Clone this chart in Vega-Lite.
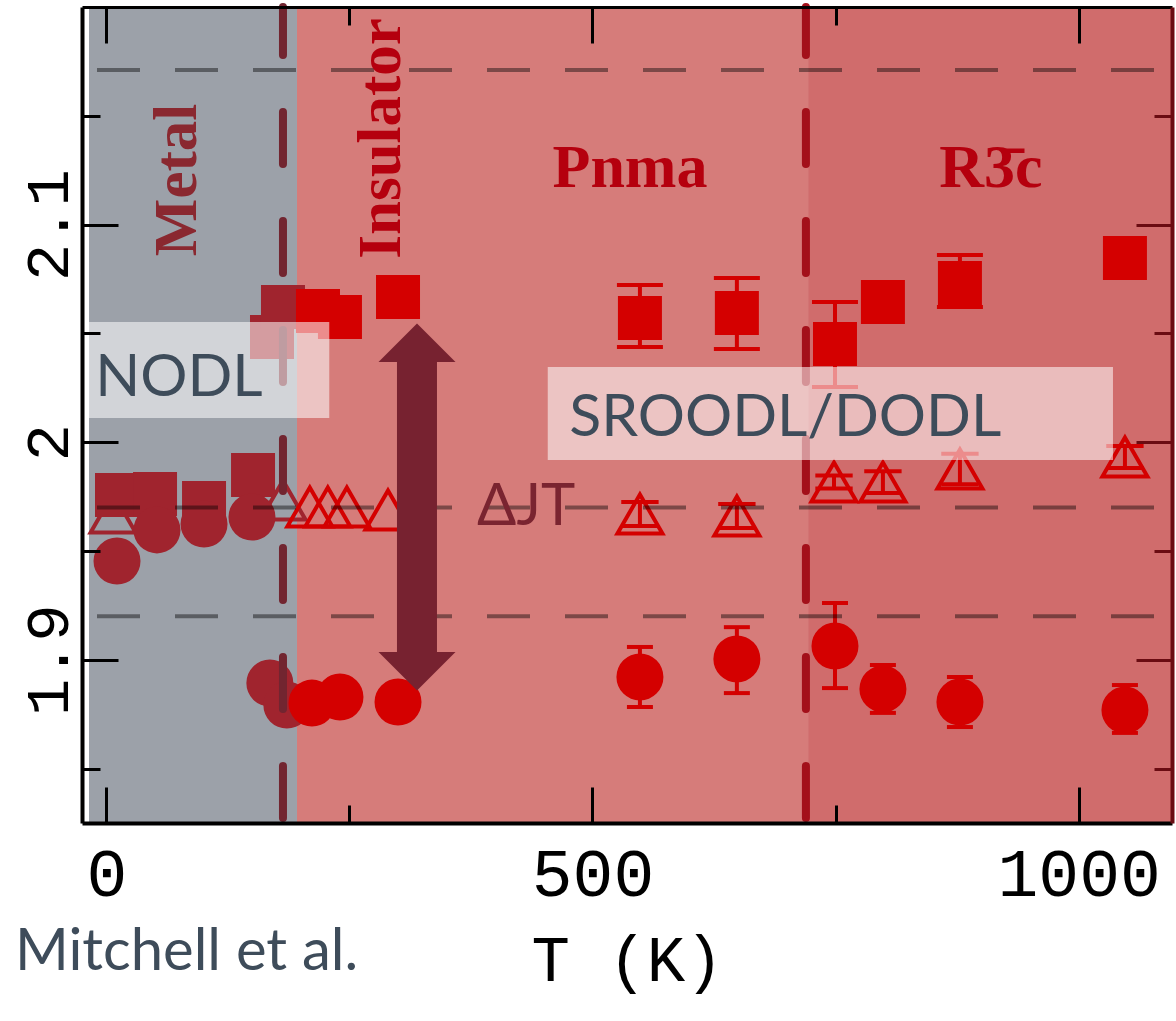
{
  "$schema": "https://vega.github.io/schema/vega-lite/v6.json",
  "width": 1090,
  "height": 816,
  "autosize": {"type": "none"},
  "padding": {"left": 82, "top": 7, "right": 4, "bottom": 198},
  "background": "white",
  "config": {
    "view": {"stroke": null},
    "axis": {"grid": false, "domainColor": "black", "tickColor": "black", "tickWidth": 3, "labelColor": "black", "titleColor": "black", "labelFlush": false, "labelOverlap": false}
  },
  "resolve": {"axis": {"x": "independent", "y": "independent"}},
  "layer": [
    {
      "data": {"values": [
        {"region": "Metal", "T0": -17.8, "T1": 196.1},
        {"region": "Pnma", "T0": 196.1, "T1": 721.7},
        {"region": "R3c", "T0": 721.7, "T1": 1096}
      ]},
      "mark": {"type": "rect"},
      "encoding": {
        "x": {"field": "T0", "type": "quantitative", "scale": {"domain": [-25, 1096], "nice": false, "zero": false},
          "axis": {"orient": "bottom", "zindex": 1, "values": [0, 500, 1000],
            "labelExpr": "'' + datum.value",
            "tickSize": -36,
            "labelPadding": 54, "labelFont": "Liberation Mono", "labelFontSize": 68,
            "title": "T (K)", "titleFont": "Liberation Mono", "titleFontSize": 64, "titleFontWeight": "normal", "titlePadding": 20,
            "domainWidth": 4}},
        "x2": {"field": "T1"},
        "color": {"field": "region", "type": "nominal", "scale": {"domain": ["Metal", "Pnma", "R3c"], "range": ["#9ca1a9", "#d67c7a", "#d06c6c"]}, "legend": null}
      }
    },
    {
      "data": {"values": [
        {"T": 7.0, "v": 1.9675}, {"T": 181.7, "v": 1.9734}, {"T": 209.3, "v": 1.9702}, {"T": 227.8, "v": 1.9702},
        {"T": 247.4, "v": 1.9702}, {"T": 289.7, "v": 1.9688}, {"T": 548.8, "v": 1.967}, {"T": 648.5, "v": 1.9661},
        {"T": 748.4, "v": 1.9817}, {"T": 798.7, "v": 1.9817}, {"T": 877.9, "v": 1.9877}, {"T": 1047.6, "v": 1.9932}
      ]},
      "mark": {"type": "point", "shape": "triangle-up", "filled": false, "strokeWidth": 4, "size": 2025, "opacity": 1},
      "encoding": {
        "x": {"field": "T", "type": "quantitative", "axis": null},
        "y": {"field": "v", "type": "quantitative", "scale": {"domain": [1.825, 2.2], "nice": false, "zero": false},
          "axis": {"orient": "right", "zindex": 1, "values": [1.9, 2, 2.1], "labels": false, "title": null, "tickSize": -36,
            "domainColor": "#6a0c12", "tickColor": "#6a0c12", "domainWidth": 4}},
        "color": {"condition": {"test": "datum.T < 196", "value": "#a0242e"}, "value": "#d40000"}
      }
    },
    {
      "data": {"values": [
        {"series": "sq", "T": 548.8, "lo": 2.0438, "hi": 2.0722},
        {"series": "sq", "T": 648.5, "lo": 2.0428, "hi": 2.0755},
        {"series": "sq", "T": 749.4, "lo": 2.0254, "hi": 2.0644},
        {"series": "sq", "T": 877.9, "lo": 2.0621, "hi": 2.086},
        {"series": "tri", "T": 548.8, "lo": 1.9615, "hi": 1.9725},
        {"series": "tri", "T": 648.5, "lo": 1.9606, "hi": 1.9716},
        {"series": "tri", "T": 748.4, "lo": 1.9787, "hi": 1.9847},
        {"series": "tri", "T": 798.7, "lo": 1.9767, "hi": 1.9867},
        {"series": "tri", "T": 877.9, "lo": 1.9807, "hi": 1.9947},
        {"series": "tri", "T": 1047.6, "lo": 1.9882, "hi": 1.9982},
        {"series": "circ", "T": 548.8, "lo": 1.8783, "hi": 1.9059},
        {"series": "circ", "T": 648.5, "lo": 1.8847, "hi": 1.915},
        {"series": "circ", "T": 749.4, "lo": 1.887, "hi": 1.9261},
        {"series": "circ", "T": 798.7, "lo": 1.8756, "hi": 1.8976},
        {"series": "circ", "T": 877.9, "lo": 1.8691, "hi": 1.8921},
        {"series": "circ", "T": 1047.6, "lo": 1.8664, "hi": 1.8884}
      ]},
      "layer": [
        {
          "mark": {"type": "rule", "strokeWidth": 4, "color": "#d40000"},
          "encoding": {
            "x": {"field": "T", "type": "quantitative", "axis": null},
            "y": {"field": "lo", "type": "quantitative", "axis": null},
            "y2": {"field": "hi"}
          }
        },
        {
          "mark": {"type": "point", "shape": "stroke", "strokeWidth": 4, "color": "#d40000", "opacity": 1},
          "encoding": {
            "x": {"field": "T", "type": "quantitative", "axis": null},
            "y": {"field": "lo", "type": "quantitative", "axis": null},
            "size": {"field": "series", "type": "nominal", "scale": {"domain": ["sq", "tri", "circ"], "range": [2116, 676, 2116]}, "legend": null}
          }
        },
        {
          "mark": {"type": "point", "shape": "stroke", "strokeWidth": 4, "color": "#d40000", "opacity": 1},
          "encoding": {
            "x": {"field": "T", "type": "quantitative", "axis": null},
            "y": {"field": "hi", "type": "quantitative", "axis": null},
            "size": {"field": "series", "type": "nominal", "legend": null}
          }
        }
      ]
    },
    {
      "data": {"values": [
        {"T": 11.0, "v": 1.9757}, {"T": 50.1, "v": 1.9762}, {"T": 100.5, "v": 1.9721}, {"T": 150.9, "v": 1.9849},
        {"T": 170.4, "v": 2.0483}, {"T": 181.7, "v": 2.0621}, {"T": 217.7, "v": 2.0603}, {"T": 240.3, "v": 2.0575},
        {"T": 300.0, "v": 2.0667}, {"T": 548.8, "v": 2.0571}, {"T": 648.5, "v": 2.0594}, {"T": 749.4, "v": 2.0451},
        {"T": 798.7, "v": 2.0644}, {"T": 877.9, "v": 2.0732}, {"T": 1047.6, "v": 2.0846}
      ]},
      "mark": {"type": "point", "shape": "square", "filled": true, "size": 1936, "opacity": 1},
      "encoding": {
        "x": {"field": "T", "type": "quantitative",
          "axis": {"orient": "top", "zindex": 1, "values": [0, 500, 1000], "labels": false, "title": null, "tickSize": -36, "domainWidth": 3}},
        "y": {"field": "v", "type": "quantitative",
          "axis": {"orient": "right", "zindex": 1, "values": [1.85, 1.95, 2.05, 2.15], "labels": false, "title": null, "tickSize": -18,
            "domain": false, "tickColor": "#6a0c12"}},
        "color": {"condition": {"test": "datum.T < 196", "value": "#a0242e"}, "value": "#d40000"}
      }
    },
    {
      "data": {"values": [
        {"T": 11.0, "v": 1.9454}, {"T": 52.1, "v": 1.9597}, {"T": 100.5, "v": 1.9624}, {"T": 149.8, "v": 1.9656},
        {"T": 168.2, "v": 1.8893}, {"T": 185.7, "v": 1.8792}, {"T": 211.5, "v": 1.8801}, {"T": 240.3, "v": 1.8829},
        {"T": 300.0, "v": 1.8806}, {"T": 548.8, "v": 1.8921}, {"T": 648.5, "v": 1.9004}, {"T": 749.4, "v": 1.9063},
        {"T": 798.7, "v": 1.8866}, {"T": 877.9, "v": 1.8806}, {"T": 1047.6, "v": 1.8769}
      ]},
      "mark": {"type": "point", "shape": "circle", "filled": true, "size": 2209, "opacity": 1},
      "encoding": {
        "x": {"field": "T", "type": "quantitative",
          "axis": {"orient": "top", "zindex": 1, "values": [250, 750], "labels": false, "title": null, "tickSize": -18, "domain": false}},
        "y": {"field": "v", "type": "quantitative",
          "axis": {"orient": "left", "zindex": 1, "values": [1.85, 1.95, 2.05, 2.15], "labels": false, "title": null, "tickSize": -18, "domain": false}},
        "color": {"condition": {"test": "datum.T < 196", "value": "#a0242e"}, "value": "#d40000"}
      }
    },
    {
      "data": {"values": [{"v": 2.171}, {"v": 1.97}, {"v": 1.92}]},
      "mark": {"type": "rule", "strokeWidth": 4, "strokeDash": [43, 35], "strokeDashOffset": 60, "color": "black", "opacity": 0.42},
      "encoding": {
        "y": {"field": "v", "type": "quantitative",
          "axis": {"orient": "left", "zindex": 1, "values": [1.9, 2, 2.1],
            "labelExpr": "'' + datum.value",
            "tickSize": -36,
            "labelAngle": -90, "labelAlign": "center", "labelBaseline": "alphabetic", "labelPadding": 51,
            "labelFont": "Liberation Mono", "labelFontSize": 62, "title": null, "domainWidth": 4}}
      }
    },
    {
      "data": {"values": [{"T": 181.7}, {"T": 719.5}]},
      "mark": {"type": "rule", "strokeWidth": 8, "strokeDash": [52, 57], "strokeCap": "round", "strokeDashOffset": 4},
      "encoding": {
        "x": {"field": "T", "type": "quantitative",
          "axis": {"orient": "bottom", "zindex": 1, "values": [250, 750], "labels": false, "title": null, "tickSize": -18, "domain": false}},
        "color": {"condition": {"test": "datum.T < 500", "value": "#722530"}, "value": "#a3101a"}
      }
    },
    {
      "data": {"values": [
        {"T": 74, "v": 2.1205, "label": "Metal"},
        {"T": 284, "v": 2.1396, "label": "Insulator"}
      ]},
      "mark": {"type": "text", "angle": 270, "align": "center", "baseline": "middle", "font": "Liberation Serif", "fontWeight": "bold", "fontSize": 61},
      "encoding": {
        "x": {"field": "T", "type": "quantitative", "axis": null},
        "y": {"field": "v", "type": "quantitative", "axis": null},
        "text": {"field": "label"},
        "color": {"condition": {"test": "datum.label == 'Metal'", "value": "#8a2830"}, "value": "#b5000e"}
      }
    },
    {
      "data": {"values": [
        {"T": 538.6, "v": 2.1173, "label": "Pnma"},
        {"T": 909.8, "v": 2.1173, "label": "R3̄c"}
      ]},
      "mark": {"type": "text", "align": "center", "baseline": "alphabetic", "font": "Liberation Serif", "fontWeight": "bold", "fontSize": 62, "color": "#b5000e"},
      "encoding": {
        "x": {"field": "T", "type": "quantitative", "axis": null},
        "y": {"field": "v", "type": "quantitative", "axis": null},
        "text": {"field": "label"}
      }
    },
    {
      "data": {"values": [
        {"x0": -27, "x1": 229.3, "y0": 2.0552, "y1": 2.0111},
        {"x0": 454.0, "x1": 1035.3, "y0": 2.0346, "y1": 1.9918}
      ]},
      "mark": {"type": "rect", "color": "white", "opacity": 0.55},
      "encoding": {
        "x": {"field": "x0", "type": "quantitative", "axis": null},
        "x2": {"field": "x1"},
        "y": {"field": "y0", "type": "quantitative", "axis": null},
        "y2": {"field": "y1"}
      }
    },
    {
      "data": {"values": [
        {"T": -11.5, "v": 2.0212, "label": "NODL"},
        {"T": 476.0, "v": 2.0028, "label": "SROODL/DODL"}
      ]},
      "mark": {"type": "text", "align": "left", "baseline": "alphabetic", "font": "Lato", "fontSize": 59, "color": "#3e4c5a"},
      "encoding": {
        "x": {"field": "T", "type": "quantitative", "axis": null},
        "y": {"field": "v", "type": "quantitative", "axis": null},
        "text": {"field": "label"}
      }
    },
    {
      "data": {"values": [{"T": 319.5, "v0": 2.0369, "v1": 1.9036}]},
      "mark": {"type": "rule", "strokeWidth": 40, "strokeCap": "butt", "color": "#772230"},
      "encoding": {
        "x": {"field": "T", "type": "quantitative", "axis": null},
        "y": {"field": "v0", "type": "quantitative", "axis": null},
        "y2": {"field": "v1"}
      }
    },
    {
      "data": {"values": [{"T": 319.5, "v": 2.0369, "dir": "up"}, {"T": 319.5, "v": 1.9036, "dir": "down"}]},
      "mark": {"type": "point", "filled": true, "size": 5929, "opacity": 1, "color": "#772230"},
      "encoding": {
        "x": {"field": "T", "type": "quantitative", "axis": null},
        "y": {"field": "v", "type": "quantitative", "axis": null},
        "shape": {"field": "dir", "type": "nominal", "scale": {"domain": ["up", "down"], "range": ["M-1,0L1,0L0,-1Z", "M-1,0L1,0L0,1Z"]}, "legend": null}
      }
    },
    {
      "data": {"values": [{"T": 381.3, "v": 1.9619, "label": "ΔJT"}]},
      "mark": {"type": "text", "align": "left", "baseline": "alphabetic", "font": "Lato", "fontSize": 58, "color": "#7a2430"},
      "encoding": {
        "x": {"field": "T", "type": "quantitative", "axis": null},
        "y": {"field": "v", "type": "quantitative", "axis": null},
        "text": {"field": "label"}
      }
    },
    {
      "data": {"values": [{"T": -93.9, "v": 1.7574, "label": "Mitchell et al."}]},
      "mark": {"type": "text", "align": "left", "baseline": "alphabetic", "font": "Lato", "fontSize": 58, "color": "#3e4c5a"},
      "encoding": {
        "x": {"field": "T", "type": "quantitative", "axis": null},
        "y": {"field": "v", "type": "quantitative", "axis": null},
        "text": {"field": "label"}
      }
    }
  ]
}
